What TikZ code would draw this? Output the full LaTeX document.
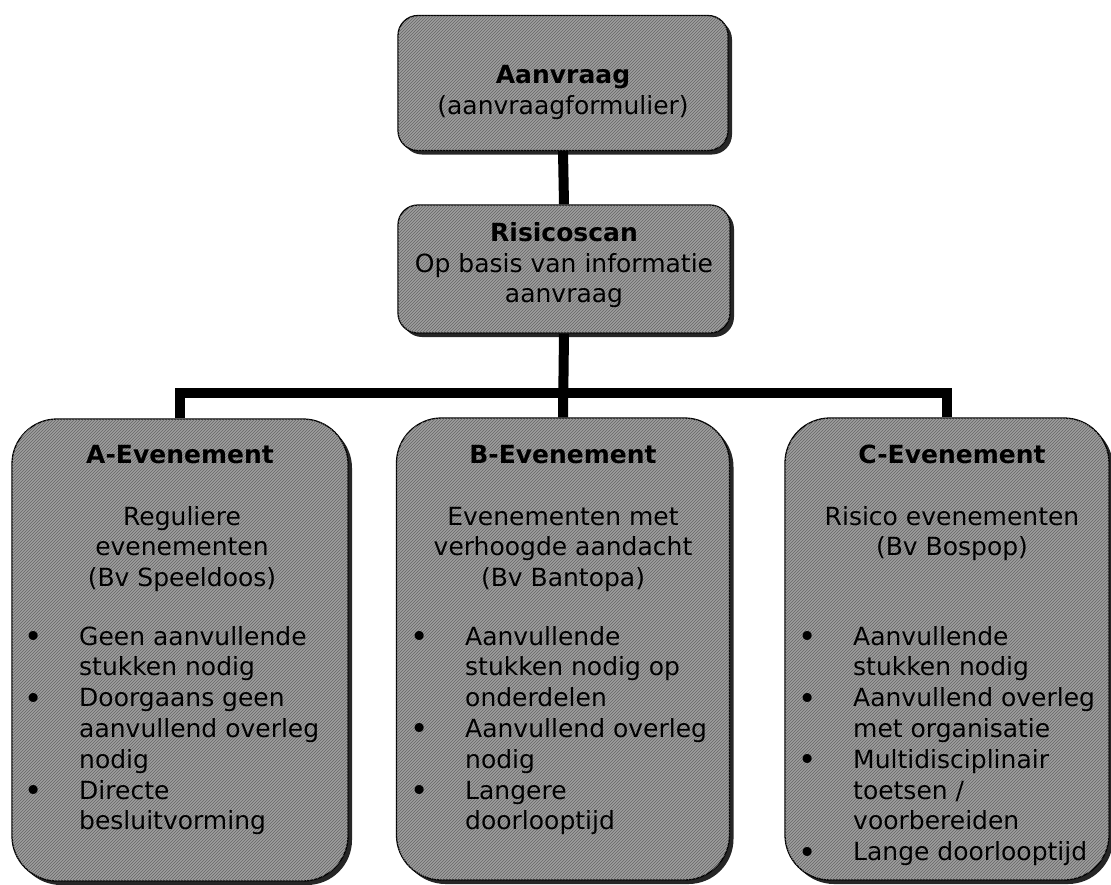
\documentclass[tikz,border=0pt]{standalone}
\usepackage{fontspec}
\setmainfont{DejaVu Sans}
\usetikzlibrary{positioning, patterns, shadows}
\newcommand{\bul}{\llap{\raisebox{-2.5pt}{\fontsize{31}{30}\selectfont\char"2022}\hspace{36pt}}}

\begin{document}
\begin{tikzpicture}[x=1pt,y=-1pt,
  box/.style={draw=black, line width=1.3pt, fill=black!38,
    postaction={pattern=north east lines, pattern color=black!60},
    drop shadow={shadow xshift=4pt, shadow yshift=-4pt, fill=black!85, opacity=1},
    inner sep=0pt},
  small/.style={box, rounded corners=20pt},
  big/.style={box, rounded corners=45pt, minimum height=462pt},
  link/.style={line width=10pt},
  txt/.style={inner sep=0pt, font=\fontsize{25}{30}\selectfont}]
\useasboundingbox (0,0) rectangle (1111,884);

% boxes
\node[small, minimum width=330pt, minimum height=135pt] (req) at (563,83) {};
\node[small, minimum width=332pt, minimum height=128pt] (scan) at (564,269) {};
\node[big, minimum width=336pt] (evA) at (180,650) {};
\node[big, minimum width=333pt] (evB) at (563,649) {};
\node[big, minimum width=324pt] (evC) at (947,649) {};

% connectors
\coordinate (split) at (564,393);
\draw[link] (req.south) -- (scan.north);
\draw[link] (scan.south) -- (evB.north);
\draw[link] (evA.north) |- (split) -| (evC.north);

% top texts
\node[txt, anchor=base] (req1) at (563,83) {\textbf{Aanvraag}};
\node[txt, anchor=base] (req2) at (563,114) {(aanvraagformulier)};
\node[txt, anchor=base] (scan1) at (564,241) {\textbf{Risicoscan}};
\node[txt, anchor=base] (scan2) at (564,272) {Op basis van informatie};
\node[txt, anchor=base] (scan3) at (564,302) {aanvraag};

% titles
\node[txt, anchor=base] (tA) at (180,463) {\textbf{A-Evenement}};
\node[txt, anchor=base] (tB) at (563,463) {\textbf{B-Evenement}};
\node[txt, anchor=base] (tC) at (952,463) {\textbf{C-Evenement}};

% descriptions
\foreach \t [count=\i] in {Reguliere, evenementen, {(Bv Speeldoos)}}
  \node[txt, anchor=base] (dA\i) at (182,494.5+30.5*\i) {\t};
\foreach \t [count=\i] in {Evenementen met, verhoogde aandacht, {(Bv Bantopa)}}
  \node[txt, anchor=base] (dB\i) at (563,494.5+30.5*\i) {\t};
\foreach \t [count=\i] in {Risico evenementen, {(Bv Bospop)}}
  \node[txt, anchor=base] (dC\i) at (952,494.5+30.5*\i) {\t};

% bullet lists
\foreach \t [count=\i] in {\bul Geen aanvullende, stukken nodig, \bul Doorgaans geen,
    aanvullend overleg, nodig, \bul Directe, besluitvorming}
  \node[txt, anchor=base west] (lA\i) at (79,614.2+30.8*\i) {\t};
\foreach \t [count=\i] in {\bul Aanvullende, stukken nodig op, onderdelen,
    \bul Aanvullend overleg, nodig, \bul Langere, doorlooptijd}
  \node[txt, anchor=base west] (lB\i) at (465,614.2+30.8*\i) {\t};
\foreach \t [count=\i] in {\bul Aanvullende, stukken nodig, \bul Aanvullend overleg,
    met organisatie, \bul Multidisciplinair, toetsen /, voorbereiden,
    \bul Lange doorlooptijd}
  \node[txt, anchor=base west] (lC\i) at (853,614.2+30.8*\i) {\t};
\end{tikzpicture}
\end{document}
